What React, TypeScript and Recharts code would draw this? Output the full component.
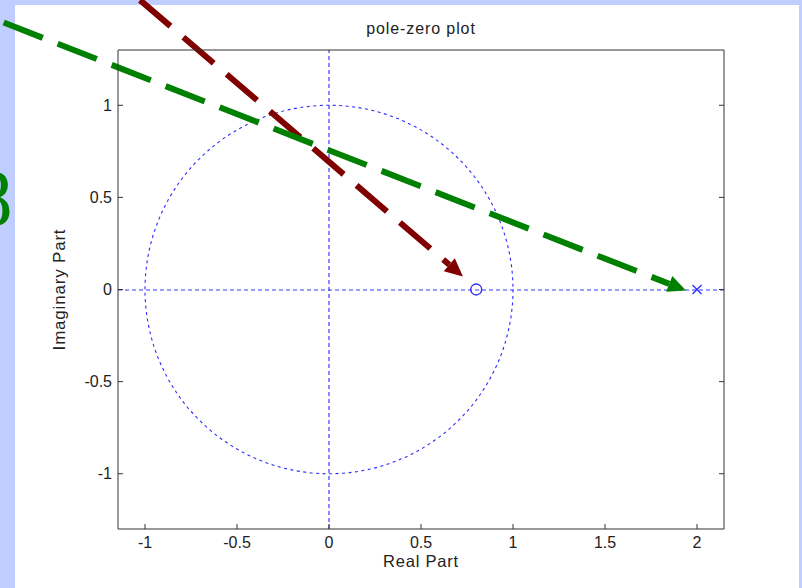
import { ComposedChart, XAxis, YAxis, Scatter, ReferenceLine, ReferenceArea, Label } from 'recharts';

// axes
const xTicks = [-1, -0.5, 0, 0.5, 1, 1.5, 2];
const yTicks = [-1, -0.5, 0, 0.5, 1];
const xDomain = [-1.1467, 2.1467];
const yDomain = [-1.3, 1.3];

// zeros (o) and poles (x)
const zeros = [{ re: 0.8, im: 0 }];
const poles = [{ re: 2, im: 0 }];

// unit circle bounds
const circleRe = [-1, 1];
const circleIm = [-1, 1];

// annotation arrows, start -> tip
const redArrow = [{ x: -1.033, y: 1.576 }, { x: 0.728, y: 0.071 }];
const greenArrow = [{ x: -1.788, y: 1.457 }, { x: 1.94, y: -0.005 }];

const BLUE = '#2b2bff';
const AXIS = '#333';
const FONT = '"Liberation Sans", Arial, sans-serif';

const tickStyle = { fill: '#222', fontSize: 16, fontFamily: FONT };
const noTick = () => <g />;

// half-pixel nudge so the 1px line straddles two rows, like the anti-aliased original
const dottedLine = (p: any) => {
  const flat = Math.abs(p.y1 - p.y2) < 0.01;
  const dy = flat ? 0.5 : 0;
  return (
    <line
      x1={p.x1}
      y1={p.y1 + dy}
      x2={p.x2}
      y2={p.y2 + dy}
      stroke="#3a3aff"
      strokeWidth={1.2}
      strokeDasharray="4 3"
      fill="none"
    />
  );
};

function arrowShape(color: string, dash: string, lead: number) {
  return (p: any) => {
    const { x1, y1, x2, y2 } = p;
    const len = Math.hypot(x2 - x1, y2 - y1);
    const ux = (x2 - x1) / len;
    const uy = (y2 - y1) / len;
    const L = 18;
    const W = 8.5;
    const bx = x2 - ux * L;
    const by = y2 - uy * L;
    const dashLen = Number(dash.split(' ')[0]);
    return (
      <g>
        <line
          x1={bx}
          y1={by}
          x2={x1}
          y2={y1}
          stroke={color}
          strokeWidth={6}
          strokeDasharray={dash}
          strokeDashoffset={dashLen - lead}
        />
        <polygon
          points={`${x2},${y2} ${bx - uy * W},${by + ux * W} ${bx + uy * W},${by - ux * W}`}
          fill={color}
        />
      </g>
    );
  };
}

const circleShape = (p: any) => (
  <ellipse
    cx={p.x + p.width / 2}
    cy={p.y + p.height / 2}
    rx={p.width / 2}
    ry={p.height / 2}
    fill="none"
    stroke={BLUE}
    strokeWidth={1.1}
    strokeDasharray="3 3.5"
  />
);

const zeroShape = (p: any) => (
  <circle cx={p.cx} cy={p.cy} r={5.5} fill="none" stroke={BLUE} strokeWidth={1.3} />
);

const poleShape = (p: any) => (
  <path
    d={`M${p.cx - 4.5},${p.cy - 4.5}L${p.cx + 4.5},${p.cy + 4.5}M${p.cx - 4.5},${p.cy + 4.5}L${p.cx + 4.5},${p.cy - 4.5}`}
    stroke={BLUE}
    strokeWidth={1.3}
    fill="none"
  />
);

export default function App() {
  return (
    <div style={{ position: 'absolute', left: 0, top: 0, width: 802, height: 588, background: '#bfcdff', overflow: 'hidden' }}>
      <div style={{ position: 'absolute', left: 15, top: 5, width: 784, height: 583, background: '#fff' }} />
      <svg width={60} height={260} style={{ position: 'absolute', left: 0, top: 0 }}>
        <text x={-27.5} y={225} fill="#008000" fontSize={80} fontFamily='"Liberation Serif", serif'>
          8
        </text>
      </svg>
      <ComposedChart
        width={802}
        height={588}
        margin={{ top: 44, right: 72, bottom: 33, left: 58 }}
        style={{ position: 'absolute', left: 0, top: 0, fontFamily: FONT }}
      >
        <XAxis
          type="number"
          dataKey="re"
          domain={xDomain}
          allowDataOverflow
          ticks={xTicks}
          interval={0}
          height={26}
          tickSize={-5}
          tickMargin={13}
          tick={tickStyle}
          stroke={AXIS}
        >
          <Label value="Real Part" position="bottom" offset={0} fill="#222" fontSize={16.5} fontFamily={FONT} letterSpacing={0.8} />
        </XAxis>
        <XAxis
          xAxisId="top"
          orientation="top"
          type="number"
          domain={xDomain}
          allowDataOverflow
          ticks={xTicks}
          interval={0}
          height={6}
          tickSize={-5}
          tick={noTick}
          stroke={AXIS}
        >
          <Label value="pole-zero plot" position="top" offset={10.5} fill="#222" fontSize={16} fontFamily={FONT} letterSpacing={0.9} />
        </XAxis>
        <YAxis
          type="number"
          dataKey="im"
          domain={yDomain}
          allowDataOverflow
          ticks={yTicks}
          interval={0}
          width={60}
          tickSize={-5}
          tickMargin={11}
          tick={tickStyle}
          stroke={AXIS}
        >
          <Label
            value="Imaginary Part"
            position="insideLeft"
            angle={-90}
            offset={1}
            fill="#222"
            fontSize={17}
            fontFamily={FONT}
            letterSpacing={0.8}
            style={{ textAnchor: 'middle' }}
          />
        </YAxis>
        <YAxis
          yAxisId="right"
          orientation="right"
          type="number"
          domain={yDomain}
          allowDataOverflow
          ticks={yTicks}
          interval={0}
          width={6}
          tickSize={-5}
          tick={noTick}
          stroke={AXIS}
        />

        <ReferenceLine x={0} shape={dottedLine} />
        <ReferenceLine y={0} shape={dottedLine} />
        <ReferenceArea x1={circleRe[0]} x2={circleRe[1]} y1={circleIm[0]} y2={circleIm[1]} shape={circleShape} />

        <Scatter data={zeros} shape={zeroShape} isAnimationActive={false} />
        <Scatter data={poles} shape={poleShape} isAnimationActive={false} />

        <ReferenceLine
          segment={redArrow}
          ifOverflow="visible"
          shape={arrowShape('#800000', '40 17', 8)}
        />
        <ReferenceLine
          segment={greenArrow}
          ifOverflow="visible"
          shape={arrowShape('#008000', '42 16', 19)}
        />
      </ComposedChart>
    </div>
  );
}
